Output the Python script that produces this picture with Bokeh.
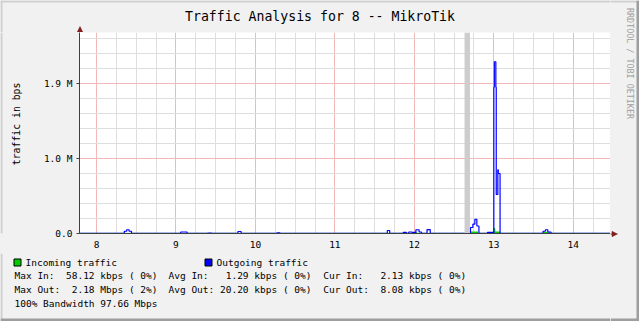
import re
from math import pi
from bokeh.plotting import figure
from bokeh.layouts import row, column
from bokeh.models import FixedTicker, BoxAnnotation, ColumnDataSource
from bokeh.core.properties import value
from bokeh.embed import file_html
from bokeh.resources import INLINE

# ---------------- data ----------------
title_text = "Traffic Analysis for 8 -- MikroTik"
y_title = "traffic in bps"
x_ticks = [8, 9, 10, 11, 12, 13, 14]
x_tick_labels = ["8", "9", "10", "11", "12", "13", "14"]
y_ticks = [0, 1000000, 2000000]
y_tick_labels = ["0.0", "1.0 M", "1.9 M"]

# outgoing traffic (bits per second), hour of day
out_hours = [7.79, 8.35, 8.38, 8.41, 8.44, 9.06, 9.14, 9.40, 9.45, 9.78, 9.82,
             10.27, 10.31, 11.66, 11.69, 11.86, 11.90, 11.93, 11.97, 12.02, 12.06,
             12.09, 12.16, 12.20, 12.707, 12.737, 12.762, 12.787, 12.813, 12.92,
             12.996, 13.0006, 13.007, 13.026, 13.031, 13.051, 13.057, 13.072,
             13.079, 13.62, 13.65, 13.68, 13.72, 14.47]
out_bps = [3000, 30000, 50000, 30000, 3000, 20000, 3000, 6000, 3000, 27000, 3000,
           8000, 3000, 40000, 3000, 15000, 3000, 20000, 15000, 50000, 20000,
           3000, 53000, 3000, 80000, 124000, 190000, 100000, 3000, 15000,
           3000, 1950000, 2290000, 1950000, 520000, 850000, 800000, 800000,
           3000, 30000, 50000, 20000, 3000, 3000]

# incoming traffic (bits per second)
in_hours = [7.79, 11.99, 12.03, 12.707, 12.80, 13.0006, 13.013, 13.075, 13.63,
            13.70, 14.47]
in_bps = [1500, 15000, 1500, 20000, 1500, 67000, 20000, 1500, 15000, 1500, 1500]

gap_start = [12.632]
gap_end = [12.70]

legend_names = ["Incoming traffic", "Outgoing traffic"]
legend_colors = ["#00CC00", "#0000FF"]
stats_in = ["Max In:  58.12 kbps ( 0%)", "Avg In:   1.29 kbps ( 0%)",
            "Cur In:   2.13 kbps ( 0%)"]
stats_out = ["Max Out:  2.18 Mbps ( 2%)", "Avg Out: 20.20 kbps ( 0%)",
             "Cur Out:  8.08 kbps ( 0%)"]
bandwidth_line = "100% Bandwidth 97.66 Mbps"
watermark = "RRDTOOL / TOBI OETIKER"

x_range = (7.786, 14.469)
y_range = (0, 2680000)

# ---------------- layout constants ----------------
W, H = 639, 321
MONO = "DejaVu Sans Mono"
BG = "#F1F1F1"
SHADE_A = "#CFCFCF"
SHADE_B = "#9E9E9E"
AXIS = "#404040"
ARROW = "#801F1F"
FL, FR, FT, FB = 79, 610, 32, 233   # plot frame edges on the page
BOT_Y = 253                          # where the bottom text strip begins
LEFT_W = 30                          # y-title strip width
BGSTYLE = {"background-color": BG}


def strip(w, h):
    f = figure(width=w, height=h, x_range=(0, w), y_range=(h, 0),
               output_backend="svg", toolbar_location=None, x_axis_type=None,
               y_axis_type=None, min_border=0, title_location=None)
    f.background_fill_color = BG
    f.border_fill_color = BG
    f.outline_line_color = None
    f.styles = BGSTYLE
    return f


def txt(f, x, y, s, size, align="left", angle=0.0, color="#000000"):
    f.text(x=[x], y=[y], text=[s], text_font=value(MONO),
           text_font_size=value(f"{size}px"), text_align=align,
           text_baseline="middle", angle=angle, text_color=color)


def mono(f, x0, y, s, size):
    # monospaced line: place each word at its character column
    cw = 0.60205 * size
    for m in re.finditer(r"\S+", s):
        txt(f, x0 + m.start() * cw, y, m.group(), size)


def rect(f, x0, y0, x1, y1, color, line=None):
    f.quad(left=[x0], right=[x1], top=[y0], bottom=[y1], fill_color=color,
           line_color=line, line_width=1)


def tri(f, pts, color):
    f.patch(x=[a for a, b in pts], y=[b for a, b in pts], fill_color=color,
            line_color=color, line_width=0.5)


# ---- top strip: title + y-axis arrow head
T = strip(FR, FT)
txt(T, 319.5, 16, title_text, 13.2, align="center")
rect(T, 0, 0, FR, 2, SHADE_A)
rect(T, 0, 0, 2, FT, SHADE_A)
rect(T, 79, 29, 80, FT, AXIS)
tri(T, [(76.8, 31.5), (82.2, 31.5), (79.5, 26)], ARROW)

# ---- left strip: y title
L = strip(LEFT_W, BOT_Y - FT)
txt(L, 15.5, 132.5 - FT, y_title, 9.8, align="center", angle=pi / 2)
rect(L, 0, 0, 2, BOT_Y - FT, SHADE_A)

# ---- right strip: watermark + x-axis arrow head
R = strip(W - FR, H)
txt(R, 629.5 - FR, 63, watermark, 8.4, align="center", angle=-pi / 2,
    color="#A0A0A0")
rect(R, 0, 0, W - FR, 2, SHADE_A)
rect(R, W - FR - 3, 0, W - FR, H, SHADE_B)
rect(R, 0, H - 3, W - FR, H, SHADE_B)
rect(R, 0, FB, 2, FB + 1, AXIS)
tri(R, [(1.5, FB - 2.2), (1.5, FB + 3.2), (7, FB + 0.5)], ARROW)

# ---- bottom strip: legend and statistics
B = strip(FR, H - BOT_Y)
rect(B, 13.5, 258.5 - BOT_Y, 20.5, 265.5 - BOT_Y, legend_colors[0], "#000000")
rect(B, 204.5, 258.5 - BOT_Y, 211.5, 265.5 - BOT_Y, legend_colors[1], "#000000")
mono(B, 25, 261.7 - BOT_Y, legend_names[0], 9.5)
mono(B, 216, 261.7 - BOT_Y, legend_names[1], 9.5)
cols = [14, 168, 322.7]
for cx, s in zip(cols, stats_in):
    mono(B, cx, 275 - BOT_Y, s, 9.5)
for cx, s in zip(cols, stats_out):
    mono(B, cx, 289.3 - BOT_Y, s, 9.5)
mono(B, 14, 303.3 - BOT_Y, bandwidth_line, 9.5)
rect(B, 0, 0, 2, H - BOT_Y, SHADE_A)
rect(B, 0, H - BOT_Y - 3, FR, H - BOT_Y, SHADE_B)

# ---- main chart
p = figure(width=FR - LEFT_W, height=BOT_Y - FT, output_backend="svg",
           toolbar_location=None, x_range=x_range, y_range=y_range,
           title_location=None,
           min_border_left=FL - LEFT_W, min_border_right=0,
           min_border_top=0, min_border_bottom=BOT_Y - FB)
p.background_fill_color = "#FFFFFF"
p.border_fill_color = BG
p.outline_line_color = None
p.styles = BGSTYLE

xt = FixedTicker(ticks=x_ticks,
                 minor_ticks=[h + q / 4 for h in range(7, 15) for q in range(4)])
yt = FixedTicker(ticks=y_ticks, minor_ticks=[i * 200000 for i in range(1, 14)])
p.xaxis.ticker = xt
p.yaxis.ticker = yt
p.xaxis.major_label_overrides = {t: l for t, l in zip(x_ticks, x_tick_labels)}
p.yaxis.major_label_overrides = {t: l for t, l in zip(y_ticks, y_tick_labels)}
for ax in (p.xaxis, p.yaxis):
    ax.axis_line_color = AXIS
    ax.axis_line_width = 1
    ax.major_tick_in = 0
    ax.minor_tick_in = 0
    ax.minor_tick_out = 0
    ax.major_label_text_font = MONO
    ax.major_label_text_font_size = "9.5px"
    ax.major_label_text_color = "#000000"
    ax.major_tick_line_color = AXIS
p.xaxis.major_tick_out = 0
p.xaxis.major_label_standoff = 7
p.yaxis.major_tick_out = 3
p.yaxis.major_label_standoff = 4

for g in (p.xgrid, p.ygrid):
    g.grid_line_color = "#F2B8B8"
    g.grid_line_width = 1
    g.minor_grid_line_color = "#DEDEDE"
    g.minor_grid_line_width = 1
p.xgrid.ticker = xt
p.ygrid.ticker = yt

for gs, ge in zip(gap_start, gap_end):
    p.add_layout(BoxAnnotation(left=gs, right=ge, fill_color="#CDCDCD",
                               fill_alpha=1.0, line_color=None, level="glyph"))

src_in = ColumnDataSource(dict(x=in_hours, y=in_bps))
src_out = ColumnDataSource(dict(x=out_hours, y=out_bps))
p.varea_step(x="x", y1=0, y2="y", source=src_in, step_mode="after",
             fill_color=legend_colors[0])
p.step(x="x", y="y", source=src_in, mode="after", line_color=legend_colors[0],
       line_width=1)
p.step(x="x", y="y", source=src_out, mode="after", line_color=legend_colors[1],
       line_width=1.2)

middle = row(L, p, styles=BGSTYLE)
left_col = column(T, middle, B, styles=BGSTYLE)
layout = row(left_col, R, styles=BGSTYLE)
open("out.html", "w").write(file_html(layout, INLINE))
